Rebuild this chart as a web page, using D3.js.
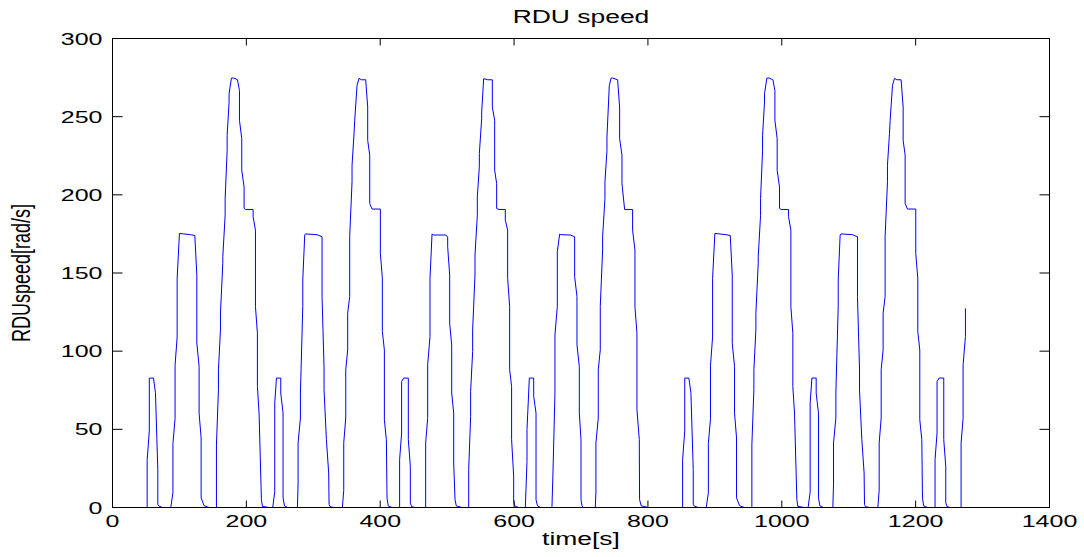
<!DOCTYPE html>
<html>
<head>
<meta charset="utf-8">
<script src="https://cdn.jsdelivr.net/npm/d3@7"></script>
<style>
  body { margin: 0; background: #fff; }
  text { font-family: "Liberation Sans", Arial, sans-serif; fill: #000; }
</style>
</head>
<body>
<svg id="chart" width="1084" height="557"></svg>
<script>
// RDU speed [rad/s] against time [s], one array per drive cycle
const cycle1 = [[0,0],[51.8,0],[51.8,30.6],[55,49],[55,82.8],[61.2,82.8],[64.2,73.4],[67.7,24.2],[67.7,2],[69,1],[74.7,0],
  [87.1,0],[90.3,9.5],[90.3,41],[93.5,57],[93.5,91],[96.6,109],[96.6,146.6],[100,175.3],[106.5,175],[116.5,174.5],[123,174],
  [126,148.7],[126,105.1],[129.4,90.2],[129.4,60.4],[132.4,44.5],[132.4,6.2],[136.9,1.1],[144.4,0],
  [155.3,0],[155.3,40],[158.3,75.3],[158.3,88.1],[161.3,113.6],[161.3,124.3],[164.8,156.2],[164.8,160.4],[168.3,187],[168.3,197.7],
  [171.3,228.5],[171.3,238.1],[174.2,259.3],[174.2,264.7],[177.7,274.7],[181.2,274.7],[186.7,273.6],[189.7,266.8],[189.7,247.7],
  [193.1,236],[193.1,215.7],[196.6,205.1],[196.6,191.3],[199,190.6],[210.1,190.6],[210.1,186],[213.6,177.4],[213.6,128.5],
  [216.5,111.5],[216.5,77.4],[219,60.4],[222.5,5],[224,0.7],[234,0]];

const cycle2 = [[239.4,0],[242.4,10],[242.4,66.8],[245,82.8],[251.4,82.8],[251.4,73.2],[254.8,60.4],[254.8,6.2],[257,1],[262,0],
  [276.3,0],[277.3,15],[277.3,41.3],[280.8,57.2],[280.8,73.2],[284.3,128.5],[284.3,145.5],[287.2,174.3],[288.5,175],[305.6,174.5],
  [313.1,173.2],[313.1,134.9],[316.1,89.2],[316.1,75.3],[319.6,43.4],[323,22.1],[323.6,2],[325,0.5],[331,0],
  [343.5,0],[345.5,11],[345.5,41.3],[348.5,57.2],[348.5,88.1],[351.4,100.8],[351.4,124.3],[354.4,134.9],[354.4,173.2],
  [357.9,208.3],[357.9,218.9],[360.9,239.1],[361.9,247.7],[365.4,270],[368.4,274.5],[371.9,273.6],[378.3,273.6],[381.3,256.2],
  [381.3,234.9],[384.3,225.4],[384.3,194.5],[387.8,190.9],[400.2,190.9],[400.2,162.6],[403.2,146.7],[403.2,112.6],[406.2,100.8],
  [406.2,56.1],[409.2,43.4],[410.2,6],[412,1],[417.7,0]];

const cycle3 = [[429,0],[429,30.6],[432,47.7],[432,80.6],[435,82.8],[442,82.8],[442,43.4],[445,26.4],[445,3],[447,0.5],[452,0],
  [467.9,0],[467.9,41.3],[470.9,57],[470.9,91.3],[474.4,109.4],[474.4,146.6],[477.4,174.9],[480,174.3],[497.3,174.3],[500.8,173.2],
  [500.8,166.8],[503.8,148.7],[503.8,117.9],[506.8,104],[506.8,73.2],[509.8,60.4],[509.8,28.5],[511.8,5],[513.7,1],[522.2,0],
  [532.2,0],[532.2,24.3],[535.1,58.3],[535.1,74.3],[538.1,99.8],[538.1,113.6],[541.6,148.7],[541.6,161.5],[545.1,187],[545.1,198.7],
  [548.1,217.9],[548.1,226.4],[551.6,248.7],[551.6,253],[554.6,274.3],[560.6,273.6],[567.5,273.6],[567.5,256.2],[571,247.7],
  [571,215.7],[574,207.2],[574,191.3],[577.5,190.6],[586.9,190.6],[586.9,183.8],[590.4,177.4],[590.4,146.6],[593.4,128.5],
  [593.4,88.1],[596.3,77.4],[596.3,43.4],[599.4,20],[599.4,4],[601,1],[606.8,0]];

const cycle4 = [[616.8,0],[619.3,29.4],[619.3,49.8],[622.8,82.8],[629.3,82.8],[629.3,71.1],[632.8,60.4],[632.8,5],[635,1],[640,0],
  [656.6,0],[658.1,22.1],[661.1,73.2],[661.1,110.4],[664.6,128.5],[664.6,163.6],[668.1,174.9],[670,174.5],[684,174.3],[690.5,173.2],
  [690.5,147.7],[694,134.9],[694,104],[697.5,90.2],[697.5,60.4],[700,43.4],[700,5],[701.5,1],[703.9,0],
  [721.3,0],[722.3,10],[722.3,41.3],[725.8,57.2],[725.8,88.1],[728.8,100.8],[728.8,128.5],[732.3,164.7],[732.3,173.2],
  [735.8,197.7],[735.8,208.3],[738.8,228.5],[738.8,237],[742.3,270],[745,274.7],[747.2,274.7],[754.7,273.6],[757.7,256.2],
  [757.7,236],[761.2,225.4],[761.2,207.2],[765.2,190.6],[777.1,190.6],[777.1,177.4],[780.6,164.7],[780.6,128.5],[783.6,111.5],
  [783.6,62.6],[787.1,43.4],[787.5,5],[790,1],[801,0]];

const cycle5 = [[851.8,0],[851.8,30.6],[855,49],[855,82.8],[861.2,82.8],[864.2,73.4],[867.7,24.2],[867.7,2],[869,1],[874.7,0],
  [887.1,0],[890.3,9.5],[890.3,41],[893.5,57],[893.5,91],[896.6,109],[896.6,146.6],[900,175.3],[906.5,175],[916.5,174.5],[923,174],
  [926,148.7],[926,105.1],[929.4,90.2],[929.4,60.4],[932.4,44.5],[932.4,6.2],[936.9,1.1],[944.4,0],
  [955.3,0],[955.3,40],[958.3,75.3],[958.3,88.1],[961.3,113.6],[961.3,124.3],[964.8,156.2],[964.8,160.4],[968.3,187],[968.3,197.7],
  [971.3,228.5],[971.3,238.1],[974.2,259.3],[974.2,264.7],[977.7,274.7],[981.2,274.7],[986.7,273.6],[989.7,266.8],[989.7,247.7],
  [993.1,236],[993.1,215.7],[996.6,205.1],[996.6,191.3],[999,190.6],[1010.1,190.6],[1010.1,186],[1013.6,177.4],[1013.6,128.5],
  [1016.5,111.5],[1016.5,77.4],[1019,60.4],[1022.5,5],[1024,0.7],[1034,0]];

const cycle6 = [[1039.4,0],[1042.4,10],[1042.4,66.8],[1045,82.8],[1051.4,82.8],[1051.4,73.2],[1054.8,60.4],[1054.8,6.2],[1057,1],[1062,0],
  [1076.3,0],[1077.3,15],[1077.3,41.3],[1080.8,57.2],[1080.8,73.2],[1084.3,128.5],[1084.3,145.5],[1087.2,174.3],[1088.5,175],[1105.6,174.5],
  [1113.1,173.2],[1113.1,134.9],[1116.1,89.2],[1116.1,75.3],[1119.6,43.4],[1123,22.1],[1123.6,2],[1125,0.5],[1131,0],
  [1143.5,0],[1145.5,11],[1145.5,41.3],[1148.5,57.2],[1148.5,88.1],[1151.4,100.8],[1151.4,124.3],[1154.4,134.9],[1154.4,173.2],
  [1157.9,208.3],[1157.9,218.9],[1160.9,239.1],[1161.9,247.7],[1165.4,270],[1168.4,274.5],[1171.9,273.6],[1178.3,273.6],[1181.3,256.2],
  [1181.3,234.9],[1184.3,225.4],[1184.3,194.5],[1187.8,190.9],[1200.2,190.9],[1200.2,162.6],[1203.2,146.7],[1203.2,112.6],[1206.2,100.8],
  [1206.2,56.1],[1209.2,43.4],[1210.2,6],[1212,1],[1217.7,0]];

const cycle7 = [[1229,0],[1229,30.6],[1232,47.7],[1232,80.6],[1235,82.8],[1242,82.8],[1242,43.4],[1245,26.4],[1245,3],[1247,0.5],[1252,0],
  [1267.9,0],[1267.9,41.3],[1270.9,57],[1270.9,91.3],[1274.4,109.4],[1274.4,127.4]];

const xTicks = [0, 200, 400, 600, 800, 1000, 1200, 1400];
const yTicks = [0, 50, 100, 150, 200, 250, 300];
const titleText = "RDU speed";
const xLabel = "time[s]";
const yLabel = "RDUspeed[rad/s]";

const series = [].concat(cycle1, cycle2, cycle3, cycle4, cycle5, cycle6, cycle7);

// the reference is stretched sideways, so text gets the same stretch
const stretch = 1.47;

const svg = d3.select("#chart");
const plotLeft = 112.5, plotRight = 1049.5, plotTop = 38.5, plotBottom = 507.5;

const x = d3.scaleLinear().domain([0, 1400]).range([plotLeft, plotRight]);
const y = d3.scaleLinear().domain([0, 300]).range([plotBottom, plotTop]);

// data line
svg.append("path")
    .datum(series)
    .attr("fill", "none")
    .attr("stroke", "#0000ff")
    .attr("stroke-width", 1)
    .attr("d", d3.line().x(d => x(d[0])).y(d => y(d[1])));

// axes, ticks pointing inward like matlab
const xAxisB = svg.append("g")
    .attr("transform", `translate(0,${plotBottom})`)
    .call(d3.axisBottom(x).tickValues(xTicks).tickSize(-7).tickFormat(d3.format("d")).offset(0));
svg.append("g")
    .attr("transform", `translate(0,${plotTop})`)
    .call(d3.axisTop(x).tickValues(xTicks).tickSize(-7).tickFormat("").offset(0));
const yAxisL = svg.append("g")
    .attr("transform", `translate(${plotLeft},0)`)
    .call(d3.axisLeft(y).tickValues(yTicks).tickSize(-10).tickFormat(d3.format("d")).offset(0));
svg.append("g")
    .attr("transform", `translate(${plotRight},0)`)
    .call(d3.axisRight(y).tickValues(yTicks).tickSize(-10).tickFormat("").offset(0));

svg.selectAll(".domain").remove();
svg.selectAll(".tick line").attr("stroke", "#000");

xAxisB.selectAll("text")
    .attr("y", 0).attr("dy", null)
    .attr("transform", `translate(0,19) scale(${stretch},1)`)
    .style("font-size", "17px");

yAxisL.selectAll("text")
    .attr("x", 0).attr("dy", "0.36em")
    .attr("transform", `translate(-10,0) scale(${stretch},1)`)
    .style("font-size", "17px");

// box
svg.append("rect")
    .attr("x", plotLeft).attr("y", plotTop)
    .attr("width", plotRight - plotLeft).attr("height", plotBottom - plotTop)
    .attr("fill", "none").attr("stroke", "#000").attr("stroke-width", 1);

const cx = (plotLeft + plotRight) / 2;

svg.append("text")
    .attr("text-anchor", "middle")
    .attr("transform", `translate(${cx},23) scale(${stretch},1)`)
    .style("font-size", "18px")
    .text(titleText);

svg.append("text")
    .attr("text-anchor", "middle")
    .attr("transform", `translate(${cx},545) scale(${stretch},1)`)
    .style("font-size", "18px")
    .text(xLabel);

svg.append("text")
    .attr("text-anchor", "middle")
    .attr("transform", `translate(30,${(plotTop + plotBottom) / 2}) scale(${stretch},1) rotate(-90)`)
    .attr("textLength", 138)
    .attr("lengthAdjust", "spacingAndGlyphs")
    .style("font-size", "17px")
    .text(yLabel);
</script>
</body>
</html>
